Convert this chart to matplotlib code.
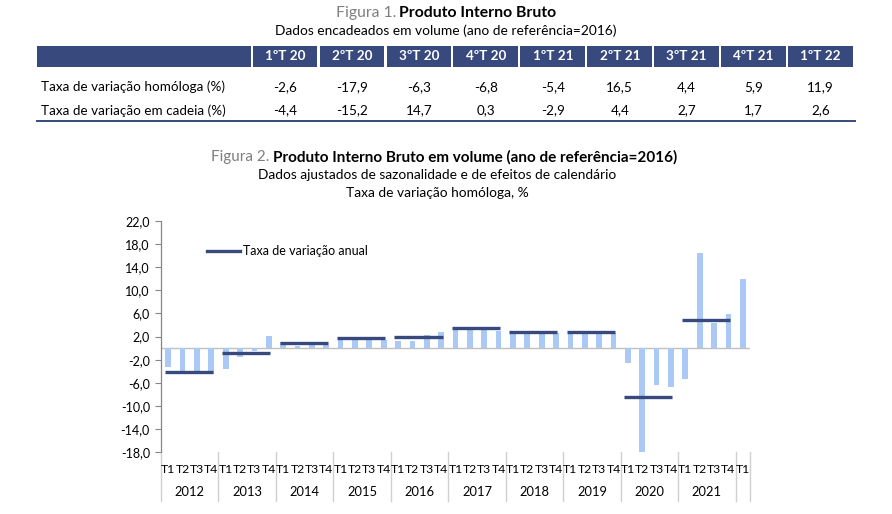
import matplotlib
matplotlib.use("Agg")
import matplotlib.pyplot as plt
from matplotlib.lines import Line2D
from matplotlib.patches import Rectangle
from matplotlib.ticker import FuncFormatter, FixedLocator

plt.rcParams["font.family"] = ["Lato", "DejaVu Sans"]

# ---- table data (Figura 1)
table_cols = ["1ºT 20", "2ºT 20", "3ºT 20", "4ºT 20", "1ºT 21",
              "2ºT 21", "3ºT 21", "4ºT 21", "1ºT 22"]
row_labels = ["Taxa de variação homóloga (%)", "Taxa de variação em cadeia (%)"]
row_homologa = [-2.6, -17.9, -6.3, -6.8, -5.4, 16.5, 4.4, 5.9, 11.9]
row_cadeia = [-4.4, -15.2, 14.7, 0.3, -2.9, 4.4, 2.7, 1.7, 2.6]

# ---- chart data (Figura 2)
years = ["2012", "2013", "2014", "2015", "2016", "2017", "2018", "2019", "2020", "2021"]
quarter_labels = ["T1", "T2", "T3", "T4"]
quarterly = [
    -3.2, -4.1, -4.1, -4.5,
    -3.6, -1.6, -0.5, 2.1,
    1.1, 0.4, 0.5, 0.6,
    1.6, 1.6, 1.5, 1.4,
    1.2, 1.2, 2.3, 2.8,
    3.4, 3.5, 3.5, 3.0,
    2.6, 3.0, 2.5, 2.6,
    2.6, 2.6, 2.6, 2.6,
    -2.6, -17.9, -6.3, -6.8,
    -5.4, 16.5, 4.4, 5.9,
    11.9,
]
annual = [-4.1, -0.9, 0.8, 1.8, 2.0, 3.5, 2.8, 2.7, -8.4, 4.9]

NAVY = "#37497d"
BAR = "#abc9f5"
W, H = 892, 514

fig = plt.figure(figsize=(W / 100, H / 100), dpi=100)
renderer = fig.canvas.get_renderer()

# overlay in pixel coords for titles and table
pg = fig.add_axes([0, 0, 1, 1])
pg.set_xlim(0, W)
pg.set_ylim(H, 0)
pg.axis("off")


def fmt(v):
    return f"{v:.1f}".replace(".", ",")


def width(t):
    bb = t.get_window_extent(renderer)
    return bb.x1 - bb.x0


def title(xc, y, grey, black, size):
    # grey "Figura n." followed by bold title, centred on xc
    t1 = pg.text(0, y, grey, color="#7f7f7f", fontsize=size, ha="left", va="center")
    t2 = pg.text(0, y, black, color="black", fontsize=size, fontweight="bold",
                 ha="left", va="center")
    gap = 0.3 * size
    x0 = xc - (width(t1) + width(t2) + gap) / 2
    t1.set_x(x0)
    t2.set_x(x0 + width(t1) + gap)


TITLE_SIZE = 11.3
SUB_SIZE = 9.9

title(446, 13, "Figura 1.", "Produto Interno Bruto", TITLE_SIZE)
pg.text(446, 31, "Dados encadeados em volume (ano de referência=2016)",
        fontsize=SUB_SIZE, ha="center", va="center")

# table
tab_left, tab_right = 37, 855
col0 = 252.7
cw = (tab_right - col0) / len(table_cols)
pg.add_patch(Rectangle((tab_left, 46), col0 - 2 - tab_left, 21, color=NAVY, lw=0))
for i, c in enumerate(table_cols):
    x0 = col0 + i * cw
    pg.add_patch(Rectangle((x0, 46), cw - 2.5, 21, color=NAVY, lw=0))
    pg.text(x0 + cw / 2 - 1, 56.5, c, color="white", fontsize=9.7, fontweight="bold",
            ha="center", va="center")
for r, (lab, vals) in enumerate(zip(row_labels, [row_homologa, row_cadeia])):
    y = 87 + r * 23.5
    pg.text(41, y, lab, fontsize=9.7, ha="left", va="center")
    for i, v in enumerate(vals):
        pg.text(col0 + i * cw + cw / 2 - 1, y, fmt(v), fontsize=9.7,
                ha="center", va="center")
pg.plot([tab_left, tab_right], [120.5, 120.5], color=NAVY, lw=1.4)

title(444, 157, "Figura 2.", "Produto Interno Bruto em volume (ano de referência=2016)",
      11.0)
pg.text(437, 175, "Dados ajustados de sazonalidade e de efeitos de calendário",
        fontsize=SUB_SIZE, ha="center", va="center")
pg.text(437, 193, "Taxa de variação homóloga, %", fontsize=SUB_SIZE,
        ha="center", va="center")

# chart
ax_l, ax_r, ax_t, ax_b = 161, 750, 220.7, 452.3
ax = fig.add_axes([ax_l / W, (H - ax_b) / H, (ax_r - ax_l) / W, (ax_b - ax_t) / H])
ax.patch.set_alpha(0)

xs = list(range(len(quarterly)))
ax.bar(xs, quarterly, width=0.4, color=BAR, edgecolor="none", zorder=2)
ax.axhline(0, color="#c0c0c0", lw=1.0, zorder=1)
for k, a in enumerate(annual):
    ax.plot([4 * k - 0.25, 4 * k + 3.1], [a, a], color=NAVY, lw=2.4,
            solid_capstyle="butt", zorder=3)

ax.set_xlim(-0.5, len(quarterly) - 0.5)
ax.set_ylim(-18, 22)
ax.yaxis.set_major_locator(FixedLocator([-18, -14, -10, -6, -2, 2, 6, 10, 14, 18, 22]))
ax.yaxis.set_major_formatter(FuncFormatter(lambda v, p: fmt(v)))
ax.tick_params(axis="y", direction="out", length=4, width=0.8, color="#868686",
               labelsize=9, pad=4)
ax.set_xticks([])
for s in ["top", "right", "bottom"]:
    ax.spines[s].set_visible(False)
ax.spines["left"].set_color("#868686")
ax.spines["left"].set_linewidth(0.9)

# multi-level category labels
tr = ax.get_xaxis_transform()
h = ax_b - ax_t
for i in xs:
    ax.text(i, -(469.5 - ax_b) / h, quarter_labels[i % 4], transform=tr,
            fontsize=8.8, ha="center", va="center", clip_on=False)
for k, yr in enumerate(years):
    ax.text(4 * k + 1.5, -(492.5 - ax_b) / h, yr, transform=tr,
            fontsize=9.3, ha="center", va="center", clip_on=False)
for b in range(len(years) + 1):
    ax.plot([4 * b - 0.5] * 2, [0, -(501 - ax_b) / h], transform=tr,
            color="#d0d0d0", lw=1.0, clip_on=False)
ax.plot([len(quarterly) - 0.5] * 2, [0, -(501 - ax_b) / h], transform=tr,
        color="#d0d0d0", lw=1.0, clip_on=False)

leg = ax.legend(handles=[Line2D([], [], color=NAVY, lw=2.4)],
                labels=["Taxa de variação anual"], loc="center left",
                bbox_to_anchor=((207 - ax_l) / (ax_r - ax_l), (ax_b - 251) / h),
                frameon=False, fontsize=9, handlelength=2.6, handletextpad=0.3,
                borderpad=0, borderaxespad=0)

fig.savefig("out.png", dpi=100, facecolor="white")
